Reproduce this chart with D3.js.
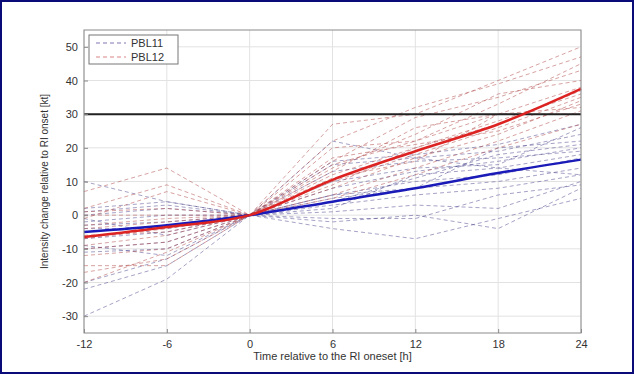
<!DOCTYPE html>
<html>
<head>
<meta charset="utf-8">
<script src="https://cdn.jsdelivr.net/npm/d3@7"></script>
<style>
  body { margin: 0; background: #fff; }
  svg { display: block; font-family: "Liberation Sans", Arial, sans-serif; }
</style>
</head>
<body>
<div id="chart"></div>
<script>
// time steps (h) relative to RI onset
const hours = [-12, -6, 0, 6, 12, 18, 24];
const xTicks = [-12, -6, 0, 6, 12, 18, 24];
const yTicks = [-30, -20, -10, 0, 10, 20, 30, 40, 50];

// individual members, PBL11
const pbl11Members = [
  [-30, -19, 0, -4, -7, -1, 5],
  [-22, -15, 0, -2, 0, -4, 8],
  [-20, -13, 0, 1, 3, 2, 10],
  [-11, -10, 0, 3, 6, 8, 12],
  [-10, -8, 0, -1, -1, 6, 9],
  [-9, -12, 0, 5, 8, 10, 14],
  [-7, -5, 0, 6, 10, 12, 17],
  [-4, -4, 0, 2, 12, 14, 18],
  [-3, -2, 0, 8, 13, 16, 20],
  [-2, 0, 0, 4, 11, 18, 21],
  [0, 2, 0, 13, 16, 17, 19],
  [1, 3, 0, 15, 17, 19, 24],
  [2, 4, 0, 16, 18, 21, 27],
  [10, 4, 0, 22, 17, 14, 12],
  [-5, -3, 0, 10, 14, 15, 26],
  [-1, -6, 0, 6, 8, 20, 22]
];

// individual members, PBL12
const pbl12Members = [
  [7, 14, 0, 27, 30, 40, 50],
  [2, 9, 0, 22, 32, 39, 47],
  [-1, 7, 0, 16, 29, 35, 43],
  [-15, -15, 0, 14, 24, 36, 40],
  [-17, -13, 0, 20, 22, 30, 38],
  [-7, -4, 0, 12, 20, 28, 36],
  [-10, -8, 0, 10, 18, 26, 35],
  [-4, -2, 0, 8, 17, 24, 34],
  [0, 0, 0, 11, 16, 30, 32],
  [1, 2, 0, 6, 14, 22, 31],
  [-12, -10, 0, 9, 20, 27, 37],
  [-9, -6, 0, 13, 26, 30, 30],
  [-3, -1, 0, 5, 12, 20, 27],
  [-20, -11, 0, 15, 22, 33, 45],
  [-6, -5, 0, 17, 21, 25, 33]
];

// ensemble means
const pbl11Mean = [-5, -3, 0, 4, 8, 12.5, 16.5];
const pbl12Mean = [-6.5, -3.5, 0, 10.5, 19, 27, 37.5];

const riThreshold = 30;

const width = 634, height = 374;
const margin = { top: 30, right: 53, bottom: 41, left: 84 };

const svg = d3.select('#chart').append('svg')
  .attr('width', width)
  .attr('height', height);

// navy frame round the picture
svg.append('rect')
  .attr('x', 1).attr('y', 1)
  .attr('width', width - 2).attr('height', height - 2)
  .attr('fill', '#fff')
  .attr('stroke', '#0a0a78')
  .attr('stroke-width', 2);

const x = d3.scaleLinear().domain([-12, 24]).range([margin.left, width - margin.right]);
const y = d3.scaleLinear().domain([-35, 55]).range([height - margin.bottom, margin.top]);

// grid
svg.append('g').selectAll('line').data(xTicks).enter().append('line')
  .attr('x1', d => x(d)).attr('x2', d => x(d))
  .attr('y1', y(-35)).attr('y2', y(55))
  .attr('stroke', '#e2e2e2');
svg.append('g').selectAll('line').data(yTicks).enter().append('line')
  .attr('x1', x(-12)).attr('x2', x(24))
  .attr('y1', d => y(d)).attr('y2', d => y(d))
  .attr('stroke', '#e2e2e2');

const line = d3.line()
  .x((d, i) => x(hours[i]))
  .y(d => y(d));

// members
svg.append('g').selectAll('path').data(pbl11Members).enter().append('path')
  .attr('d', line)
  .attr('fill', 'none')
  .attr('stroke', 'rgba(75,70,140,0.5)')
  .attr('stroke-width', 1)
  .attr('stroke-dasharray', '4,3');
svg.append('g').selectAll('path').data(pbl12Members).enter().append('path')
  .attr('d', line)
  .attr('fill', 'none')
  .attr('stroke', 'rgba(175,70,70,0.5)')
  .attr('stroke-width', 1)
  .attr('stroke-dasharray', '4,3');

// RI threshold
svg.append('line')
  .attr('x1', x(-12)).attr('x2', x(24))
  .attr('y1', y(riThreshold)).attr('y2', y(riThreshold))
  .attr('stroke', '#222')
  .attr('stroke-width', 2);

// means
const meanLine = d3.line()
  .x((d, i) => x(hours[i]))
  .y(d => y(d))
  .curve(d3.curveMonotoneX);
svg.append('path').datum(pbl11Mean)
  .attr('d', meanLine).attr('fill', 'none')
  .attr('stroke', '#1a1ab8').attr('stroke-width', 2.5);
svg.append('path').datum(pbl12Mean)
  .attr('d', meanLine).attr('fill', 'none')
  .attr('stroke', '#dd2222').attr('stroke-width', 2.5);

// plot box
svg.append('rect')
  .attr('x', x(-12)).attr('y', y(55))
  .attr('width', x(24) - x(-12)).attr('height', y(-35) - y(55))
  .attr('fill', 'none')
  .attr('stroke', '#8a8a8a');

// axes (plain hyphen minus, like the original)
const fmt = d => String(d);
const xAxis = svg.append('g')
  .attr('transform', `translate(0,${y(-35)})`)
  .call(d3.axisBottom(x).tickValues(xTicks).tickFormat(fmt).tickSize(-4).tickPadding(7));
const yAxis = svg.append('g')
  .attr('transform', `translate(${x(-12)},0)`)
  .call(d3.axisLeft(y).tickValues(yTicks).tickFormat(fmt).tickSize(-4).tickPadding(6));
[xAxis, yAxis].forEach(a => {
  a.select('.domain').remove();
  a.selectAll('line').attr('stroke', '#8a8a8a');
  a.selectAll('text').attr('fill', '#333').style('font-size', '11px');
});

// axis titles
svg.append('text')
  .attr('x', (x(-12) + x(24)) / 2).attr('y', 360)
  .attr('text-anchor', 'middle')
  .style('font-size', '11px').attr('fill', '#333')
  .text('Time relative to the RI oneset [h]');
svg.append('text')
  .attr('transform', `translate(48,${(y(-35) + y(55)) / 2}) rotate(-90)`)
  .attr('text-anchor', 'middle')
  .style('font-size', '10px').attr('fill', '#333')
  .text('Intensity change relative to RI onset [kt]');

// legend
const legend = svg.append('g');
legend.append('rect')
  .attr('x', 89).attr('y', 35).attr('width', 89).attr('height', 29)
  .attr('fill', '#fff').attr('stroke', '#777');
[['PBL11', 'rgba(90,70,150,0.75)'], ['PBL12', 'rgba(200,80,80,0.7)']].forEach((e, i) => {
  const ly = 43 + i * 14;
  legend.append('line')
    .attr('x1', 96).attr('x2', 126).attr('y1', ly).attr('y2', ly)
    .attr('stroke', e[1]).attr('stroke-dasharray', '4,3');
  legend.append('text')
    .attr('x', 131).attr('y', ly + 4)
    .style('font-size', '11px').attr('fill', '#333')
    .text(e[0]);
});
</script>
</body>
</html>
